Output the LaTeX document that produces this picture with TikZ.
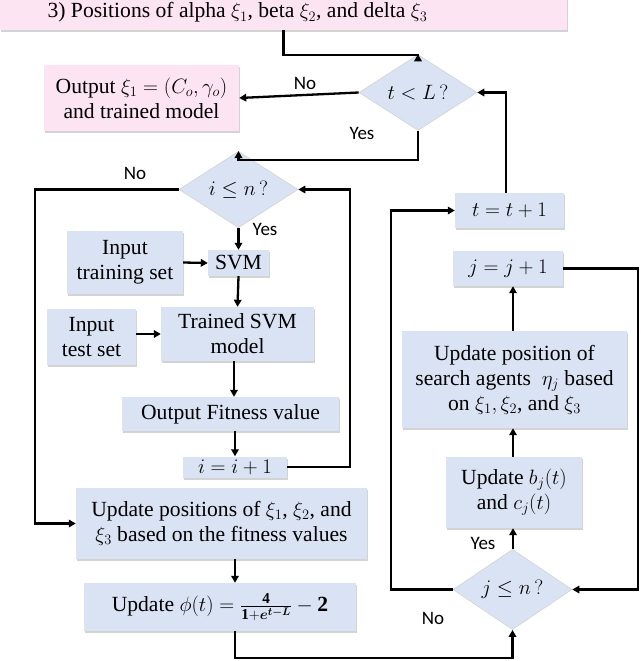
\documentclass[tikz,border=0pt]{standalone}
\usepackage{amsmath,bm}
\usepackage{fontspec}
\setmainfont{Liberation Serif}
\newfontfamily\lab{Carlito}
\usetikzlibrary{arrows.meta,shapes.geometric,shadows}
\definecolor{boxblue}{HTML}{DAE3F3}
\definecolor{boxpink}{HTML}{FDE4F2}
\tikzset{
  x=1pt,y=-1pt,
  base/.style={inner sep=0pt,align=center,font=\fontsize{21.6}{25}\selectfont,
     drop shadow={shadow xshift=0.8pt,shadow yshift=-2pt,opacity=0.35,fill=gray}},
  bluebox/.style={base,fill=boxblue},
  pinkbox/.style={base,fill=boxpink},
  decide/.style={shape=diamond,inner sep=0pt,fill=boxblue,draw=gray!35,line width=0.6pt,
     font=\fontsize{21.6}{25}\selectfont},
  arr/.style={line width=2.3pt,-{Triangle[length=7pt,width=7.5pt]}},
  lbl/.style={font=\lab\fontsize{19}{22}\selectfont,inner sep=0pt}
}
\begin{document}
\begin{tikzpicture}
\useasboundingbox (0,0) rectangle (640,661);
% nodes
\node[pinkbox,minimum width=567,minimum height=70] (top) at (283.5,-5) {};
\node[anchor=base,inner sep=0pt,font=\fontsize{21.6}{25}\selectfont] (toptxt) at (237.5,18)
  {3) Positions of alpha $\xi_1$, beta $\xi_2$, and delta $\xi_3$};
\node[pinkbox,minimum width=195,minimum height=66] (out) at (141.5,98)
  {Output $\xi_1 = (C_o, \gamma_o)$\\and trained model};
\node[decide,minimum width=118,minimum height=51] (tl) at (418,92.5) {$t < L\,?$};
\node[decide,minimum width=119,minimum height=47] (in) at (238.5,189.5) {$i \le n\,?$};
\node[bluebox,minimum width=61,minimum height=26] (svm) at (238.5,263) {SVM};
\node[bluebox,minimum width=116,minimum height=63] (train) at (125,262.5) {Input\\training set};
\node[bluebox,minimum width=153,minimum height=54] (trained) at (237.5,334) {Trained SVM\\model};
\node[bluebox,minimum width=89,minimum height=56] (test) at (91.5,337) {Input\\test set};
\node[bluebox,minimum width=217,minimum height=34] (fit) at (230.5,414) {Output Fitness value};
\node[bluebox,minimum width=104,minimum height=21] (iinc) at (235,467) {$i = i + 1$};
\node[bluebox,minimum width=291,minimum height=71] (upd) at (221.5,523.5)
  {Update positions of $\xi_1$, $\xi_2$, and\\$\xi_3$ based on the fitness values};
\node[bluebox,minimum width=272,minimum height=48] (phi) at (220,607)
  {Update $\phi(t) = \frac{\mathbf{4}}{\mathbf{1}+\bm{e^{t-L}}} - \mathbf{2}$};
\node[decide,minimum width=119,minimum height=45] (jn) at (512.5,589.5) {$j \le n\,?$};
\node[bluebox,minimum width=136,minimum height=71] (ub) at (514,492.5)
  {Update $b_j(t)$\\and $c_j(t)$};
\node[bluebox,minimum width=225,minimum height=97] (up) at (514.5,379.5)
  {Update position of\\search agents \ $\eta_j$ based\\on $\xi_1, \xi_2$, and $\xi_3$};
\node[bluebox,minimum width=110,minimum height=35] (jinc) at (508,268.5) {$j = j + 1$};
\node[bluebox,minimum width=109,minimum height=35] (tinc) at (509.5,210.5) {$t = t + 1$};
% helper coordinates
\coordinate (cl) at (35,189.5);
\coordinate (cr) at (350,467);
\coordinate (lc) at (391,589.5);
\coordinate (rc) at (638,268.5);
% connectors
\draw[arr] (top.south) -- ++(0,25) -| (tl.north);
\draw[arr] (tl.west) -- (out.east);
\node[lbl] (no1) at (305,83) {No};
\draw[arr] (tl.south) -- ++(0,29) -| (in.north);
\node[lbl] (yes1) at (362,133) {Yes};
\draw[arr] (in.west) -- (cl) |- (upd.west);
\node[lbl] (no2) at (135,173) {No};
\draw[arr] (in.south) -- (svm.north);
\node[lbl] (yes2) at (265,229) {Yes};
\draw[arr] (train.east) -- (svm.west);
\draw[arr] (svm.south) -- (trained.north);
\draw[arr] (test.east |- trained.west) -- (trained.west);
\draw[arr] (trained.south -| 234,0) -- (fit.north -| 234,0);
\draw[arr] (fit.south -| iinc.north) -- (iinc.north);
\draw[arr] (iinc.east) -- (cr) |- (in.east);
\draw[arr] (upd.south -| iinc.south) -- (phi.north -| iinc.south);
\draw[arr] (phi.south -| iinc.south) -- ++(0,27) -| (jn.south);
\draw[arr] (jn.west) -- (lc) |- (tinc.west);
\node[lbl] (no3) at (433,618) {No};
\draw[arr] (tinc.north -| 506,0) |- (tl.east);
\draw[arr] (jinc.east) -- (rc) |- (jn.east);
\draw[arr] (up.north -| 513,0) -- (jinc.south -| 513,0);
\draw[arr] (ub.north -| 513,0) -- (up.south -| 513,0);
\draw[arr] (jn.north -| 513,0) -- (ub.south -| 513,0);
\node[lbl] (yes3) at (483,543) {Yes};
\end{tikzpicture}
\end{document}
